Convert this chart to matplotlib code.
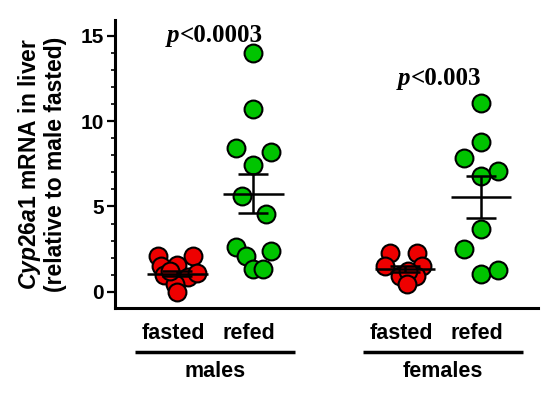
import numpy as np
import matplotlib.pyplot as plt

plt.rcParams['font.family'] = ['Liberation Sans', 'DejaVu Sans']
plt.rcParams['mathtext.fontset'] = 'custom'
plt.rcParams['mathtext.it'] = 'Liberation Sans:bold:italic'
plt.rcParams['mathtext.rm'] = 'Liberation Sans:bold'

# data
groups = ["males", "females"]
conditions = ["fasted", "refed"]
male_fasted = [2.1, 2.1, 1.5, 1.6, 1.0, 0.85, 0.45, 0.0, 1.1, 1.2]
male_fasted_dx = [-0.25, 0.21, -0.22, 0.0, -0.18, 0.14, -0.03, 0.0, 0.26, -0.09]
male_refed = [14.0, 10.7, 8.4, 8.2, 7.45, 5.6, 4.55, 2.6, 2.1, 2.4, 1.35, 1.35]
male_refed_dx = [0.0, 0.0, -0.22, 0.24, 0.0, -0.15, 0.17, -0.23, -0.1, 0.24, 0.0, 0.13]
female_fasted = [2.3, 2.3, 1.5, 1.5, 0.95, 0.95, 1.2, 0.45]
female_fasted_dx = [-0.2, 0.16, -0.27, 0.22, -0.07, 0.15, 0.04, 0.03]
female_refed = [11.05, 8.8, 7.85, 7.05, 6.8, 3.7, 2.5, 1.05, 1.3]
female_refed_dx = [0.0, 0.0, -0.22, 0.22, 0.0, 0.0, -0.22, 0.0, 0.22]
means = [1.05, 5.75, 1.35, 5.55]
sems = [0.15, 1.15, 0.18, 1.22]
pvalues = ["<0.0003", "<0.003"]

positions = [1, 2, 4, 5]
series = [(male_fasted, male_fasted_dx), (male_refed, male_refed_dx),
          (female_fasted, female_fasted_dx), (female_refed, female_refed_dx)]
colors = ["#ee0000", "#00c400", "#ee0000", "#00c400"]

fig = plt.figure(figsize=(5.5, 3.96), dpi=100)
ax = fig.add_axes([0.209, 0.222, 0.769, 0.727])

for pos, (vals, dx), col in zip(positions, series, colors):
    ax.scatter(pos + np.array(dx), vals, s=165, color=col, edgecolor="black",
               linewidth=1.5, zorder=3, clip_on=False)

for pos, m, e in zip(positions, means, sems):
    ax.hlines(m, pos - 0.4, pos + 0.4, color="black", lw=1.8, zorder=4)
    ax.vlines(pos, m - e, m + e, color="black", lw=1.8, zorder=4)
    ax.hlines([m - e, m + e], pos - 0.2, pos + 0.2, color="black", lw=1.8, zorder=4)

ax.set_xlim(0.18, 5.75)
ax.set_ylim(-0.95, 15.9)
ax.spines["top"].set_visible(False)
ax.spines["right"].set_visible(False)
ax.spines["left"].set_linewidth(2.2)
ax.spines["bottom"].set_linewidth(2.2)
ax.set_xticks([])
ax.set_yticks([0, 5, 10, 15])
ax.set_yticks(np.arange(0, 16, 1), minor=True)
ax.tick_params(axis="y", which="major", length=6, width=1.6, labelsize=15, pad=2)
ax.tick_params(axis="y", which="minor", length=3, width=1.2)
for lab in ax.get_yticklabels():
    lab.set_fontweight("bold")

ax.set_ylabel("$\\mathit{Cyp26a1}$ mRNA in liver\n(relative to male fasted)",
              fontsize=16.5, fontweight="bold", labelpad=10, linespacing=1.05)

# p-values
for x, y, p in zip([1.45, 4.49], [15.0, 12.5], pvalues):
    ax.text(x - 0.42, y, "p", family="Liberation Serif", style="italic",
            fontweight="bold", fontsize=18, ha="right", va="center")
    ax.text(x - 0.42, y, p, family="Liberation Serif", fontweight="bold",
            fontsize=18, ha="left", va="center")

# group labels below the axis
for g, start in zip(groups, [1, 4]):
    for k, c in enumerate(conditions):
        ax.text(start + k - 0.05, -2.45, c, fontsize=15.5,
                fontweight="bold", ha="center", va="center", clip_on=False)
    ax.plot([start - 0.55, start + 1.55], [-3.5, -3.5], color="black", lw=2.5,
            clip_on=False, solid_capstyle="butt")
    ax.text(start + 0.5, -4.65, g, fontsize=15.5, fontweight="bold",
            ha="center", va="center", clip_on=False)

fig.savefig("out.png", dpi=100)
